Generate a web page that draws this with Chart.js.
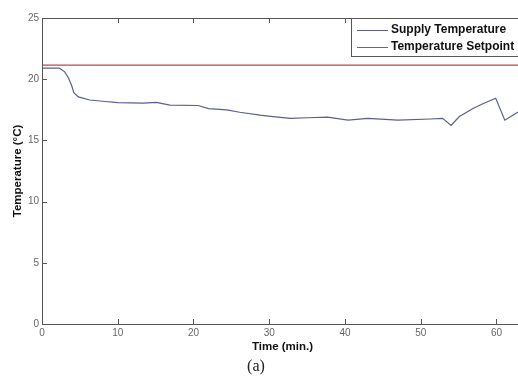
<!DOCTYPE html>
<html>
<head>
<meta charset="utf-8">
<script src="https://cdn.jsdelivr.net/npm/chart.js@4/dist/chart.umd.min.js"></script>
<style>
  html, body { margin: 0; padding: 0; background: #fff; overflow: hidden; width: 518px; height: 378px; }
  #wrap { position: absolute; left: 0; top: 0; width: 530px; height: 378px; }
  #cap { position: absolute; left: 236px; top: 357px; width: 40px; text-align: center;
         font-family: "Liberation Serif", "DejaVu Serif", serif; font-size: 16px; color: #222; }
</style>
</head>
<body>
<div id="wrap"><canvas id="c" width="530" height="378"></canvas></div>
<div id="cap">(a)</div>
<script>
const timeMin = [0, 2.3, 3.0, 3.5, 3.9, 4.2, 4.8, 6.3, 8, 10, 13.4, 15.1, 16.9, 20.6, 22, 24.4, 26.1, 28.8, 30.5, 32.8, 35, 37.7, 40.4, 43, 47, 51.3, 52.9, 54, 55.1, 56.9, 58.2, 59.9, 61.1, 62.8, 63.5];
const supplyTemp = [20.9, 20.9, 20.6, 20.1, 19.5, 18.9, 18.55, 18.3, 18.2, 18.08, 18.05, 18.1, 17.88, 17.85, 17.6, 17.5, 17.3, 17.07, 16.95, 16.8, 16.85, 16.9, 16.65, 16.8, 16.65, 16.75, 16.8, 16.22, 16.95, 17.6, 18.0, 18.45, 16.65, 17.3, 17.6];
const setpointTime = [0, 63.5];
const setpointTemp = [21.15, 21.15];
const xTicks = [0, 10, 20, 30, 40, 50, 60];
const yTicks = [0, 5, 10, 15, 20, 25];
const seriesLabels = ["Supply Temperature", "Temperature Setpoint"];
const seriesColors = ["#5b5f8e", "#b84848"];

const boxAndTicks = {
  id: 'boxAndTicks',
  afterDatasetsDraw(chart) {
    const ctx = chart.ctx, a = chart.chartArea;
    const xs = chart.scales.x, ys = chart.scales.y;
    ctx.save();
    ctx.strokeStyle = '#555';
    ctx.lineWidth = 1;
    ctx.beginPath();
    xTicks.forEach(v => {
      const px = Math.round(xs.getPixelForValue(v)) + 0.5;
      ctx.moveTo(px, a.bottom); ctx.lineTo(px, a.bottom - 5);
      ctx.moveTo(px, a.top); ctx.lineTo(px, a.top + 5);
    });
    yTicks.forEach(v => {
      const py = Math.round(ys.getPixelForValue(v)) + 0.5;
      ctx.moveTo(a.left, py); ctx.lineTo(a.left + 5, py);
      ctx.moveTo(a.right, py); ctx.lineTo(a.right - 5, py);
    });
    ctx.stroke();
    ctx.strokeRect(Math.round(a.left) + 0.5, Math.round(a.top) + 0.5, Math.round(a.right - a.left), Math.round(a.bottom - a.top));
    // legend box
    const lx = 351.5, ly = a.top + 0.5, lw = 200, lh = 38;
    ctx.fillStyle = '#fff';
    ctx.fillRect(lx, ly, lw, lh);
    ctx.strokeStyle = '#555';
    ctx.strokeRect(lx, ly, lw, lh);
    ctx.font = 'bold 12px "Liberation Sans", Arial, sans-serif';
    ctx.textBaseline = 'middle';
    ctx.fillStyle = '#111';
    chart.data.datasets.forEach((ds, i) => {
      const yy = ly + 11 + i * 17;
      ctx.strokeStyle = ds.borderColor;
      ctx.lineWidth = 1;
      ctx.beginPath();
      ctx.moveTo(357, Math.round(yy) + 0.5); ctx.lineTo(388, Math.round(yy) + 0.5);
      ctx.stroke();
      ctx.fillText(ds.label, 391, yy);
    });
    ctx.restore();
  }
};

new Chart(document.getElementById('c'), {
  type: 'line',
  data: {
    datasets: [
      { label: seriesLabels[0], data: timeMin.map((t, i) => ({x: t, y: supplyTemp[i]})),
        borderColor: seriesColors[0], borderWidth: 1.2, pointRadius: 0, tension: 0 },
      { label: seriesLabels[1], data: setpointTime.map((t, i) => ({x: t, y: setpointTemp[i]})),
        borderColor: seriesColors[1], borderWidth: 1.2, pointRadius: 0, tension: 0 }
    ]
  },
  options: {
    responsive: false,
    animation: false,
    events: [],
    layout: { padding: { top: 18, right: 7, bottom: 24, left: 0 } },
    plugins: { legend: { display: false }, tooltip: { enabled: false } },
    scales: {
      x: {
        type: 'linear', min: 0, max: 63.5,
        afterBuildTicks: s => { s.ticks = xTicks.map(v => ({value: v})); },
        afterFit: s => { s.height = 30; },
        grid: { display: false, drawTicks: false },
        border: { display: false },
        ticks: { color: '#666', padding: 3, maxRotation: 0, autoSkip: false,
                 font: { size: 10, family: '"Liberation Sans", Arial, sans-serif' } },
        title: { display: true, text: 'Time (min.)', color: '#111', padding: { top: 0, bottom: 0 },
                 font: { size: 11.5, weight: 'bold', family: '"Liberation Sans", Arial, sans-serif' } }
      },
      y: {
        min: 0, max: 25,
        afterBuildTicks: s => { s.ticks = yTicks.map(v => ({value: v})); },
        afterFit: s => { s.width = 42; },
        grid: { display: false, drawTicks: false },
        border: { display: false },
        ticks: { color: '#666', padding: 3, autoSkip: false,
                 font: { size: 10, family: '"Liberation Sans", Arial, sans-serif' } },
        title: { display: true, text: 'Temperature (°C)', color: '#111', padding: { top: 11, bottom: 0 },
                 font: { size: 11.5, weight: 'bold', family: '"Liberation Sans", Arial, sans-serif' } }
      }
    }
  },
  plugins: [boxAndTicks]
});
</script>
</body>
</html>
